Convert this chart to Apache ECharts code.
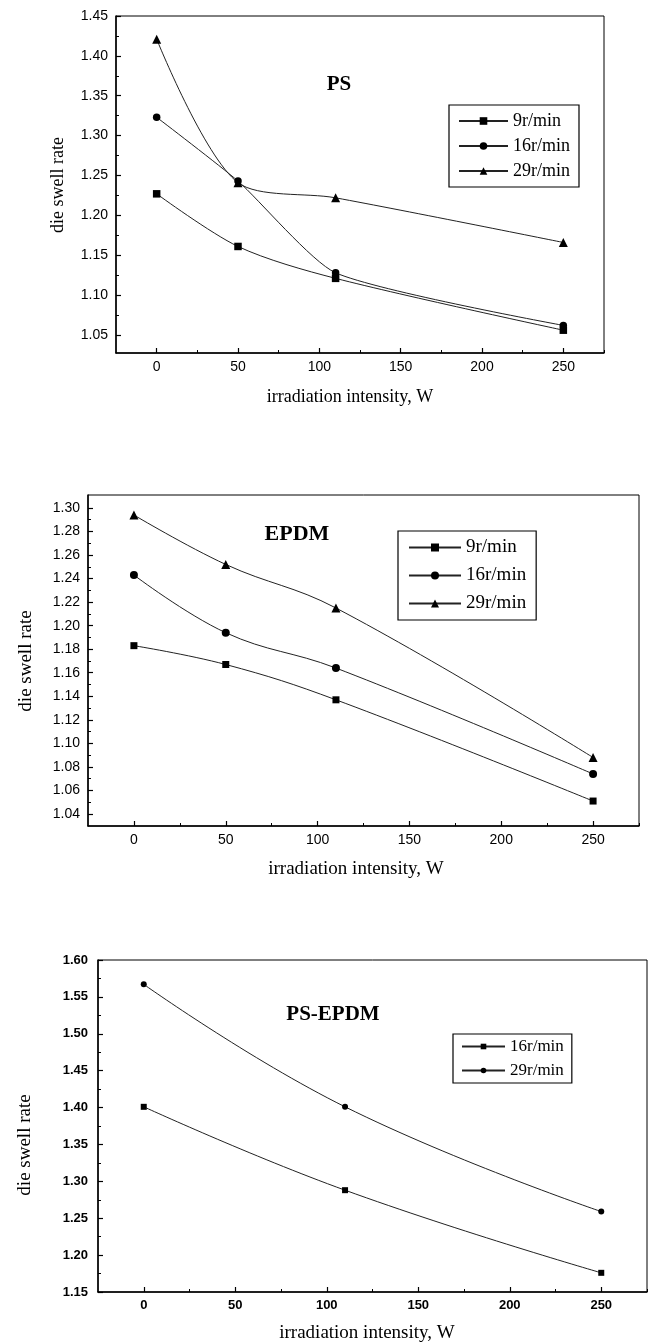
<!DOCTYPE html>
<html>
<head>
<meta charset="utf-8">
<script src="https://cdn.jsdelivr.net/npm/echarts@6/dist/echarts.min.js"></script>
<style>
  html, body { margin: 0; padding: 0; background: #fff; }
  #chart { width: 648px; height: 1342px; }
</style>
</head>
<body>
<div id="chart"></div>
<script>
// irradiation intensity (W) at which die swell was measured
const power = [0, 50, 110, 250];
const blendPower = [0, 110, 250];

// PS
const ps9 = [1.227, 1.161, 1.121, 1.056];
const ps16 = [1.323, 1.243, 1.128, 1.062];
const ps29 = [1.421, 1.241, 1.222, 1.166];

// EPDM
const epdm9 = [1.183, 1.167, 1.137, 1.051];
const epdm16 = [1.243, 1.194, 1.164, 1.074];
const epdm29 = [1.294, 1.252, 1.215, 1.088];

// PS-EPDM
const blend16 = [1.401, 1.288, 1.176];
const blend29 = [1.567, 1.401, 1.259];

// tick labels
const xTicks = [0, 50, 100, 150, 200, 250];
const xMinor = [25, 75, 125, 175, 225, 275];
const psYTicks = [1.05, 1.10, 1.15, 1.20, 1.25, 1.30, 1.35, 1.40, 1.45];
const psYMinor = [1.075, 1.125, 1.175, 1.225, 1.275, 1.325, 1.375, 1.425];
const epdmYTicks = [1.04, 1.06, 1.08, 1.10, 1.12, 1.14, 1.16, 1.18, 1.20, 1.22, 1.24, 1.26, 1.28, 1.30];
const epdmYMinor = [1.05, 1.07, 1.09, 1.11, 1.13, 1.15, 1.17, 1.19, 1.21, 1.23, 1.25, 1.27, 1.29];
const blendYTicks = [1.15, 1.20, 1.25, 1.30, 1.35, 1.40, 1.45, 1.50, 1.55, 1.60];
const blendYMinor = [1.175, 1.225, 1.275, 1.325, 1.375, 1.425, 1.475, 1.525, 1.575];

const SERIF = '"Liberation Serif", "Times New Roman", serif';
const SANS = '"Liberation Sans", Arial, sans-serif';

function axisPair(grid, pos, min, max, majors, minors, label) {
  const main = {
    type: 'value', gridIndex: grid, position: pos, min: min, max: max,
    axisLine: { show: true, onZero: false, lineStyle: { color: '#000', width: 1.5 } },
    axisTick: { show: true, inside: true, length: 5, customValues: majors, lineStyle: { color: '#000', width: 1.2 } },
    axisLabel: Object.assign({ customValues: majors, color: '#000' }, label),
    splitLine: { show: false }
  };
  const minor = {
    type: 'value', gridIndex: grid, position: pos, min: min, max: max,
    axisLine: { show: false, onZero: false },
    axisTick: { show: true, inside: true, length: 3, customValues: minors, lineStyle: { color: '#000', width: 1 } },
    axisLabel: { show: false },
    splitLine: { show: false }
  };
  return [main, minor];
}

function line(name, grid, xs, ys, symbol, size, smooth) {
  return {
    name: name, type: 'line',
    xAxisIndex: grid * 2, yAxisIndex: grid * 2,
    data: xs.map((x, i) => [x, ys[i]]),
    symbol: symbol, symbolSize: size,
    smooth: smooth,
    lineStyle: { color: '#222', width: 1 },
    itemStyle: { color: '#000' },
    emphasis: { disabled: true }
  };
}

function legend(names, left, top, pad, itemW, itemH, gap, fontSize) {
  return {
    data: names, orient: 'vertical', left: left, top: top,
    padding: pad, itemWidth: itemW, itemHeight: itemH, itemGap: gap,
    borderColor: '#000', borderWidth: 1.2, borderRadius: 0,
    selectedMode: false,
    formatter: n => n.split('|')[1],
    textStyle: { color: '#000', fontFamily: SERIF, fontSize: fontSize }
  };
}

function text(str, x, y, font, rotate) {
  return {
    type: 'text', x: x, y: y, rotation: rotate ? Math.PI / 2 : 0,
    style: { text: str, font: font, fill: '#000', align: 'center', verticalAlign: 'middle', textAlign: 'center', textVerticalAlign: 'middle' }
  };
}

const sans = (size, margin, fmt) => ({ fontFamily: SANS, fontSize: size, margin: margin, formatter: fmt });
const fix2 = v => v.toFixed(2);
const int = v => String(Math.round(v));

const x0 = axisPair(0, 'bottom', -25, 275, xTicks, xMinor, sans(14, 7, int));
const y0 = axisPair(0, 'left', 1.0274, 1.45, psYTicks, psYMinor, sans(14, 8, fix2));
const x1 = axisPair(1, 'bottom', -25, 275, xTicks, xMinor, sans(14, 7, int));
const y1 = axisPair(1, 'left', 1.0298, 1.311, epdmYTicks, epdmYMinor, sans(14, 8, fix2));
const x2 = axisPair(2, 'bottom', -25, 275, xTicks, xMinor, { fontFamily: SANS, fontSize: 13, fontWeight: 'bold', margin: 7, formatter: int });
const y2 = axisPair(2, 'left', 1.15, 1.60, blendYTicks, blendYMinor, { fontFamily: SANS, fontSize: 13, fontWeight: 'bold', margin: 10, formatter: fix2 });

const chart = echarts.init(document.getElementById('chart'));
chart.setOption({
  animation: false,
  backgroundColor: '#fff',
  grid: [
    { left: 116, top: 16, width: 488, height: 337, show: true, borderColor: '#000', borderWidth: 1 },
    { left: 88, top: 495, width: 551, height: 331, show: true, borderColor: '#000', borderWidth: 1 },
    { left: 98, top: 960, width: 549, height: 332, show: true, borderColor: '#000', borderWidth: 1 }
  ],
  xAxis: [].concat(x0, x1, x2),
  yAxis: [].concat(y0, y1, y2),
  legend: [
    legend(['PS|9r/min', 'PS|16r/min', 'PS|29r/min'], 449, 105, [7, 9, 7, 9], 49, 9.5, 7, 18),
    legend(['EPDM|9r/min', 'EPDM|16r/min', 'EPDM|29r/min'], 398, 531, [7, 10, 7, 10], 52, 10, 9, 19),
    legend(['PSEPDM|16r/min', 'PSEPDM|29r/min'], 453, 1034, [4, 8, 4, 8], 43, 7, 7, 17)
  ],
  series: [
    line('PS|9r/min', 0, power, ps9, 'rect', 7.5, 0.3),
    line('PS|16r/min', 0, power, ps16, 'circle', 7.5, 0.2),
    line('PS|29r/min', 0, power, ps29, 'triangle', 9, 0.3),
    line('EPDM|9r/min', 1, power, epdm9, 'rect', 7, 0.4),
    line('EPDM|16r/min', 1, power, epdm16, 'circle', 8, 0.4),
    line('EPDM|29r/min', 1, power, epdm29, 'triangle', 9, 0.4),
    line('PSEPDM|16r/min', 2, blendPower, blend16, 'rect', 6, 0.45),
    line('PSEPDM|29r/min', 2, blendPower, blend29, 'circle', 6, 0.45)
  ],
  graphic: [
    text('die swell rate', 58, 185, '18px ' + SERIF, true),
    text('irradiation intensity, W', 350, 397, '18px ' + SERIF),
    text('PS', 339, 85, 'bold 21px ' + SERIF),
    text('die swell rate', 26, 661, '19px ' + SERIF, true),
    text('irradiation intensity, W', 356, 869, '19px ' + SERIF),
    text('EPDM', 297, 534, 'bold 22px ' + SERIF),
    text('die swell rate', 25, 1145, '19px ' + SERIF, true),
    text('irradiation intensity, W', 367, 1333, '19px ' + SERIF),
    text('PS-EPDM', 333, 1015, 'bold 21px ' + SERIF)
  ]
});
</script>
</body>
</html>
